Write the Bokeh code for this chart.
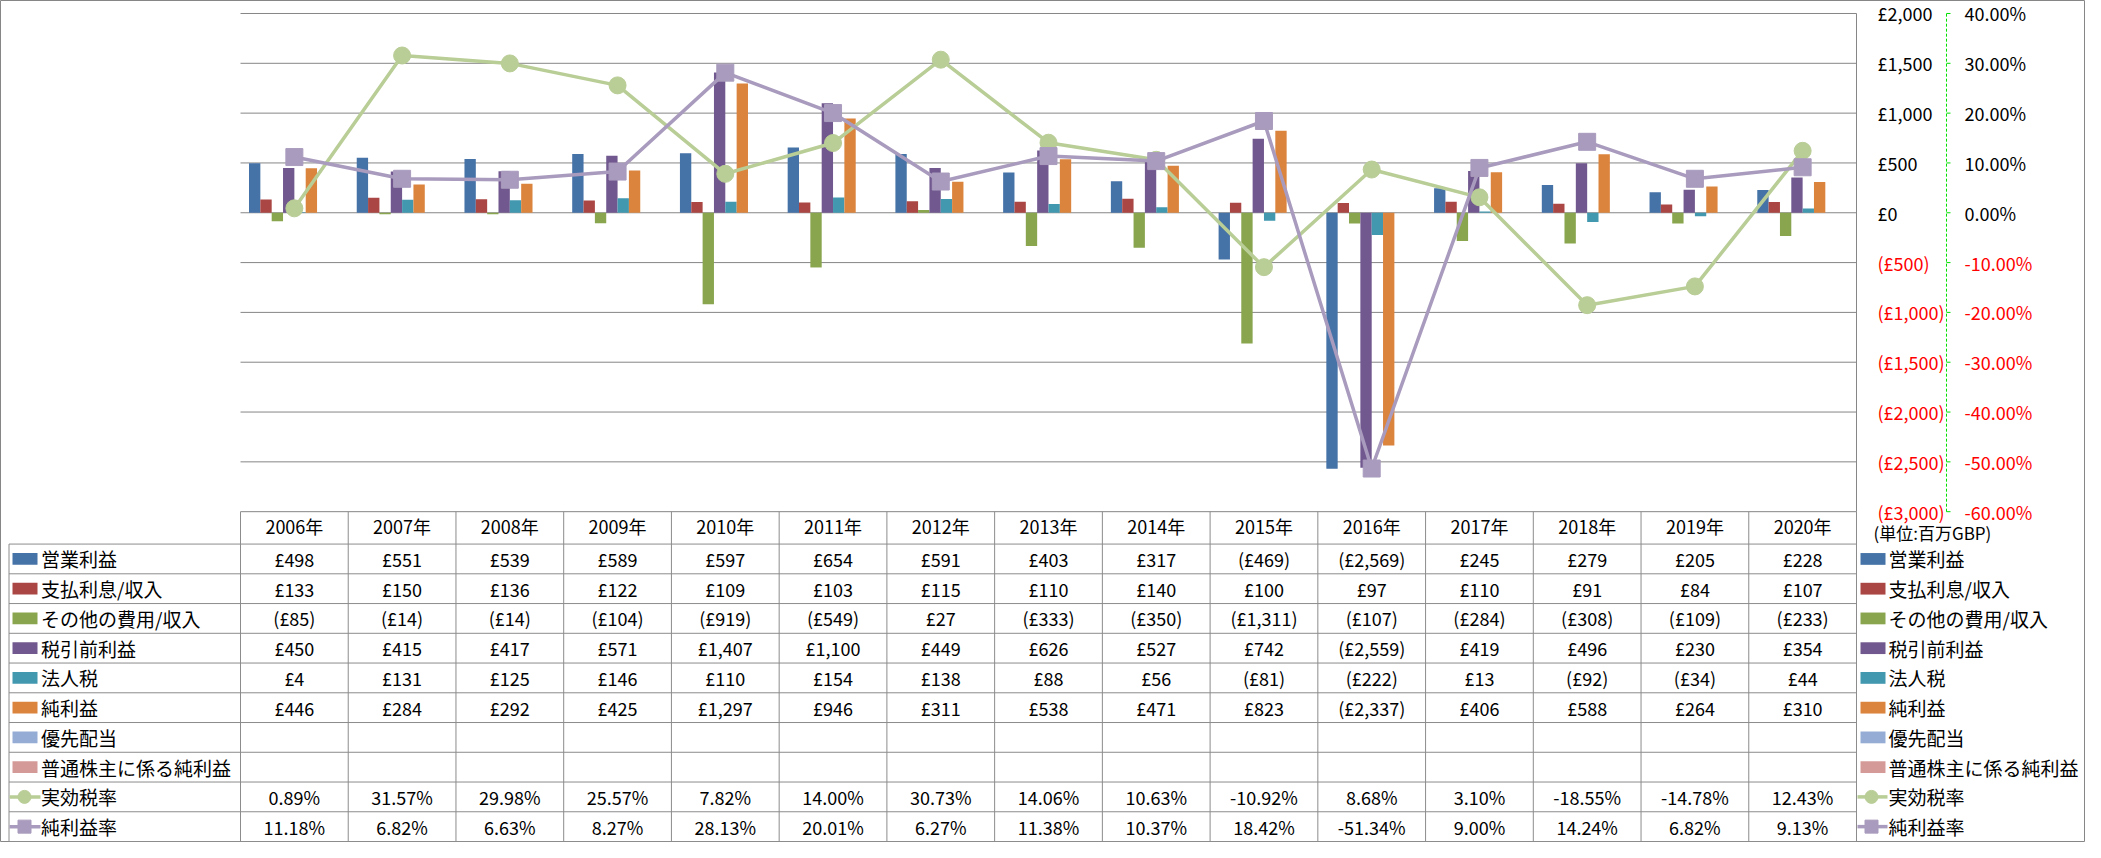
from bokeh.plotting import figure
from bokeh.models import Range1d
from bokeh.core.properties import value
from bokeh.embed import file_html
from bokeh.resources import INLINE

# ---------------- data ----------------
years = ["2006年", "2007年", "2008年", "2009年", "2010年", "2011年", "2012年", "2013年",
         "2014年", "2015年", "2016年", "2017年", "2018年", "2019年", "2020年"]

operating_income = [498, 551, 539, 589, 597, 654, 591, 403, 317, -469, -2569, 245, 279, 205, 228]
interest = [133, 150, 136, 122, 109, 103, 115, 110, 140, 100, 97, 110, 91, 84, 107]
other_expense = [-85, -14, -14, -104, -919, -549, 27, -333, -350, -1311, -107, -284, -308, -109, -233]
pretax_income = [450, 415, 417, 571, 1407, 1100, 449, 626, 527, 742, -2559, 419, 496, 230, 354]
income_tax = [4, 131, 125, 146, 110, 154, 138, 88, 56, -81, -222, 13, -92, -34, 44]
net_income = [446, 284, 292, 425, 1297, 946, 311, 538, 471, 823, -2337, 406, 588, 264, 310]
preferred_dividends = []
net_income_common = []
effective_tax_rate = [0.89, 31.57, 29.98, 25.57, 7.82, 14.00, 30.73, 14.06, 10.63, -10.92,
                      8.68, 3.10, -18.55, -14.78, 12.43]
net_margin = [11.18, 6.82, 6.63, 8.27, 28.13, 20.01, 6.27, 11.38, 10.37, 18.42,
              -51.34, 9.00, 14.24, 6.82, 9.13]

bar_names = ["営業利益", "支払利息/収入", "その他の費用/収入", "税引前利益", "法人税", "純利益",
             "優先配当", "普通株主に係る純利益"]
bar_values = [operating_income, interest, other_expense, pretax_income, income_tax, net_income,
              preferred_dividends, net_income_common]
line_names = ["実効税率", "純利益率"]
line_values = [effective_tax_rate, net_margin]

gbp_ticks = [2000, 1500, 1000, 500, 0, -500, -1000, -1500, -2000, -2500, -3000]
pct_ticks = [40, 30, 20, 10, 0, -10, -20, -30, -40, -50, -60]
unit_label = "(単位:百万GBP)"

# ---------------- styles ----------------
BAR_COLORS = ["#4572A7", "#AA4643", "#89A54E", "#71588F", "#4198AF", "#DB843D", "#95ACD5", "#D49A98"]
LINE_COLORS = ["#B9CD96", "#A99BBD"]
LINE_MARKERS = ["circle", "square"]
GRID = "#868686"
FONT = value("Noto Sans CJK JP")
FS_NUM = value("18px")
FS_JP = value("19px")


def fmt_gbp(v):
    return f"£{v:,}" if v >= 0 else f"(£{-v:,})"


def fmt_pct(v):
    return f"{v:.2f}%"


# ---------------- layout (reference pixel geometry) ----------------
W, H = 2085, 842
X_OFF = 8.0
Y_OFF, Y_SC = -0.734, 0.98164
PL, PR = 248.0, 1864.0
NCAT = len(years)
CAT = (PR - PL) / NCAT
G_TOP, G_BOT = 12.5, 520.0
HDR_TOP, HDR_BOT, ROW_H = 520.0, 553.0, 30.3
NROWS = len(bar_names) + len(line_names)
gmax, gmin = max(gbp_ticks), min(gbp_ticks)
pmax, pmin = max(pct_ticks), min(pct_ticks)


def xu(rx):
    return (rx - PL) / CAT - 0.5


def ref_y(cy):
    return cy / Y_SC + Y_OFF


def gu(ry):
    return gmax - (ry - G_TOP) * (gmax - gmin) / (G_BOT - G_TOP)


def to_pct(g):
    return pmin + (g - gmin) * (pmax - pmin) / (gmax - gmin)


def tu(ry):
    return (HDR_BOT - ry) / ROW_H


y0, y1 = gu(ref_y(H)), gu(ref_y(0))
p = figure(width=W, height=H, x_range=Range1d(xu(X_OFF), xu(X_OFF + W)),
           y_range=Range1d(y0, y1), output_backend="svg", toolbar_location=None,
           x_axis_location=None, y_axis_location=None, min_border=0)
p.extra_y_ranges = {"pct": Range1d(to_pct(y0), to_pct(y1)),
                    "tbl": Range1d(tu(ref_y(H)), tu(ref_y(0)))}
p.xgrid.visible = False
p.ygrid.visible = False
p.outline_line_color = "#868686"
p.background_fill_color = "white"
p.border_fill_color = "white"

x_left, x_right = -0.5, NCAT - 0.5

# gridlines + primary (right) axis line
p.segment(x0=[x_left] * len(gbp_ticks), y0=gbp_ticks, x1=[x_right] * len(gbp_ticks), y1=gbp_ticks,
          line_color=GRID, line_width=1)
p.segment(x0=[x_right], y0=[gmin], x1=[x_right], y1=[gmax], line_color=GRID, line_width=1)

# bars
slots = len(bar_names)
bw = 1.0 / (slots + 1.5)
for k, (vals, col) in enumerate(zip(bar_values, BAR_COLORS)):
    if not vals:
        continue
    xs = [i + (k - (slots - 1) / 2) * bw for i in range(len(vals))]
    p.vbar(x=xs, top=vals, bottom=0, width=bw, fill_color=col, line_color=None)

# lines
for vals, col, mk in zip(line_values, LINE_COLORS, LINE_MARKERS):
    xs = list(range(len(vals)))
    p.line(xs, vals, y_range_name="pct", line_color=col, line_width=3.5)
    p.scatter(xs, vals, y_range_name="pct", marker=mk, size=17, fill_color=col, line_color=col)

# right axes
p.text(x=[xu(1885)] * len(gbp_ticks), y=gbp_ticks, text=[fmt_gbp(v) for v in gbp_ticks],
       text_color=["#FF0000" if v < 0 else "#000000" for v in gbp_ticks],
       text_align="left", text_baseline="middle", text_font=FONT, text_font_size=FS_NUM)
p.text(x=[xu(1972)] * len(pct_ticks), y=pct_ticks, y_range_name="pct",
       text=[fmt_pct(v) for v in pct_ticks],
       text_color=["#FF0000" if v < 0 else "#000000" for v in pct_ticks],
       text_align="left", text_baseline="middle", text_font=FONT, text_font_size=FS_NUM)
AX_X = xu(1954)
p.segment(x0=[AX_X], y0=[pmin], x1=[AX_X], y1=[pmax], y_range_name="pct",
          line_color="#00E000", line_dash="3 2", line_width=1)
p.segment(x0=[AX_X] * len(pct_ticks), y0=pct_ticks, x1=[xu(1958)] * len(pct_ticks), y1=pct_ticks,
          y_range_name="pct", line_color="#00E000", line_width=1)
p.text(x=[xu(1881)], y=[tu(541)], y_range_name="tbl", text=[unit_label],
       text_align="left", text_baseline="middle", text_font=FONT, text_font_size=value("17px"))

# ---------------- data table ----------------
TB = "#8C8C8C"
col_edges = [i - 0.5 for i in range(NCAT + 1)]
p.segment(x0=col_edges, y0=[tu(HDR_TOP)] * len(col_edges), x1=col_edges, y1=[-NROWS] * len(col_edges),
          y_range_name="tbl", line_color=TB, line_width=1)
row_edges = [-r for r in range(NROWS + 1)]
p.segment(x0=[xu(16.5)] * len(row_edges), y0=row_edges, x1=[x_right] * len(row_edges), y1=row_edges,
          y_range_name="tbl", line_color=TB, line_width=1)
p.segment(x0=[xu(16.5)], y0=[0], x1=[xu(16.5)], y1=[-NROWS], y_range_name="tbl",
          line_color=TB, line_width=1)

# header
p.text(x=list(range(NCAT)), y=[tu(535)] * NCAT, text=years, y_range_name="tbl",
       text_align="center", text_baseline="middle", text_font=FONT, text_font_size=FS_NUM)

cell_x, cell_y, cell_t = [], [], []
row_names = bar_names + line_names
row_values = bar_values + line_values
for k, vals in enumerate(row_values):
    t = -(k + 0.5)
    is_line = k >= len(bar_names)
    for i, v in enumerate(vals):
        cell_x.append(i)
        cell_y.append(t)
        cell_t.append(fmt_pct(v) if is_line else fmt_gbp(v))
p.text(x=cell_x, y=cell_y, text=cell_t, y_range_name="tbl", text_align="center",
       text_baseline="middle", text_font=FONT, text_font_size=FS_NUM)

# legend keys (left column inside table, right column outside)
row_t = [-(k + 0.5) for k in range(NROWS)]
nb = len(bar_names)
half = 6.0 / ROW_H
for (sl, sr, tx, ll, lr, mx) in [(20, 45, 48.5, 17, 48, 32), (1868, 1893, 1896, 1865, 1895, 1879)]:
    p.quad(left=[xu(sl)] * nb, right=[xu(sr)] * nb,
           bottom=[t - half for t in row_t[:nb]], top=[t + half for t in row_t[:nb]],
           y_range_name="tbl", fill_color=BAR_COLORS, line_color=None)
    for j, (col, mk) in enumerate(zip(LINE_COLORS, LINE_MARKERS)):
        t = row_t[nb + j]
        p.segment(x0=[xu(ll)], y0=[t], x1=[xu(lr)], y1=[t], y_range_name="tbl",
                  line_color=col, line_width=3.5)
        p.scatter([xu(mx)], [t], y_range_name="tbl", marker=mk, size=13,
                  fill_color=col, line_color=col)
    p.text(x=[xu(tx)] * NROWS, y=row_t, text=row_names, y_range_name="tbl",
           text_align="left", text_baseline="middle", text_font=FONT, text_font_size=FS_JP)

open("out.html", "w").write(file_html(p, INLINE))
